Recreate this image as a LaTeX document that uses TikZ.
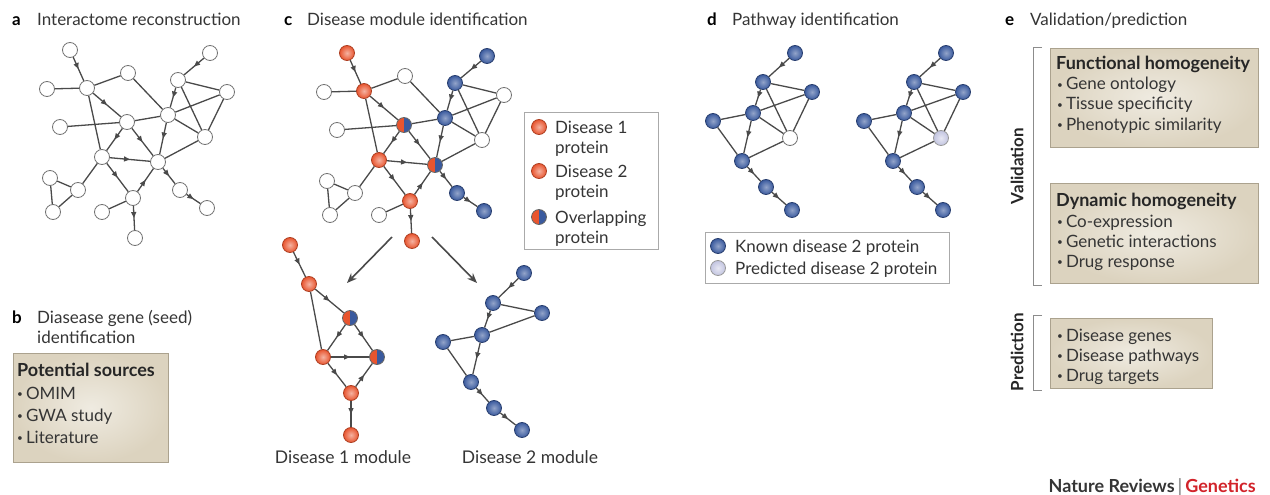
\documentclass[tikz,border=0pt]{standalone}
\usepackage{fontspec}
\setmainfont{Lato}
\usetikzlibrary{arrows.meta,decorations.markings}
\definecolor{edgec}{HTML}{4A4A4A}
\definecolor{redc}{HTML}{E8552F}
\definecolor{bluec}{HTML}{3A5A9E}
\definecolor{predc}{HTML}{C2C4E0}
\definecolor{boxin}{HTML}{EFEBE1}
\definecolor{boxout}{HTML}{DCD3BF}
\definecolor{boxline}{HTML}{ABA28E}
\definecolor{txt}{HTML}{353535}
\definecolor{genred}{HTML}{D2232A}
\definecolor{legline}{HTML}{AAAAAA}
\newcommand\bul{\raisebox{1.4pt}{\fontsize{10}{10}\selectfont\textbullet}\hspace{3pt}}
\tikzset{
  nd/.style={circle,minimum size=15pt,inner sep=0pt,line width=0.8pt},
  wnode/.style={nd,draw=black!55,fill=white},
  rnode/.style={nd,draw=redc!75!black,inner color=redc!45!white,outer color=redc},
  bnode/.style={nd,draw=bluec!70!black,inner color=bluec!55!white,outer color=bluec},
  pnode/.style={nd,draw=black!40,inner color=predc!40!white,outer color=predc},
  onode/.style={nd,draw=black!60,path picture={
      \fill[redc] (path picture bounding box.south west) rectangle (path picture bounding box.north);
      \fill[bluec] (path picture bounding box.south) rectangle (path picture bounding box.north east);}},
  ed/.style={draw=edgec,line width=1.3pt},
  midarrow/.style={postaction={decorate},decoration={markings,mark=at position 0.5 with {\arrow[edgec]{Triangle[length=6pt,width=5pt]}}}},
  bigarr/.style={draw=edgec,line width=1.6pt,-{Stealth[length=10pt,width=8pt]}},
  hdr/.style={anchor=base west,inner sep=0pt,font=\fontsize{17}{20}\selectfont,text=txt},
  lett/.style={anchor=base west,inner sep=0pt,font=\bfseries\fontsize{17}{20}\selectfont,text=black},
  btxt/.style={anchor=base west,inner sep=0pt,font=\fontsize{17}{20}\selectfont,text=txt},
  btitle/.style={anchor=base west,inner sep=0pt,font=\bfseries\fontsize{18}{20}\selectfont,text=black!85},
  ltxt/.style={anchor=base west,inner sep=0pt,font=\fontsize{17}{20}\selectfont,text=txt},
  modtxt/.style={anchor=base,inner sep=0pt,font=\fontsize{17.5}{20}\selectfont,text=txt},
  rottxt/.style={rotate=90,inner sep=0pt,font=\bfseries\fontsize{17}{20}\selectfont,text=black!85},
  ebox/.style={draw=boxline,line width=0.8pt,inner color=boxin,outer color=boxout,anchor=north west,inner sep=0pt},
  legbox/.style={draw=legline,line width=0.8pt,fill=white,anchor=north west,inner sep=0pt},
  brk/.style={draw=black!45,line width=0.9pt},
  c1/.style={wnode},c2/.style={wnode},c3/.style={wnode},c4/.style={wnode},c5/.style={wnode},
  c6/.style={wnode},c7/.style={wnode},c8/.style={wnode},c9/.style={wnode},c10/.style={wnode},
  c11/.style={wnode},c12/.style={wnode},c13/.style={wnode},c14/.style={wnode},c15/.style={wnode},
  c16/.style={wnode},c17/.style={wnode},c18/.style={wnode},c19/.style={wnode},c20/.style={wnode},
  c21/.style={wnode},q6/.style={wnode}
}
\newcommand\netgraph{%
  \node[c1]  (n1)  at (70,50)   {};
  \node[c2]  (n2)  at (210,53)  {};
  \node[c3]  (n3)  at (128,73)  {};
  \node[c4]  (n4)  at (87,88)   {};
  \node[c5]  (n5)  at (178,80)  {};
  \node[c6]  (n6)  at (47,89)   {};
  \node[c7]  (n7)  at (227,92)  {};
  \node[c8]  (n8)  at (127,122) {};
  \node[c9]  (n9)  at (168,115) {};
  \node[c10] (n10) at (60,127)  {};
  \node[c11] (n11) at (205,137) {};
  \node[c12] (n12) at (102,157) {};
  \node[c13] (n13) at (158,162) {};
  \node[c14] (n14) at (50,178)  {};
  \node[c15] (n15) at (78,190)  {};
  \node[c16] (n16) at (180,190) {};
  \node[c17] (n17) at (133,198) {};
  \node[c18] (n18) at (53,212)  {};
  \node[c19] (n19) at (102,212) {};
  \node[c20] (n20) at (207,208) {};
  \node[c21] (n21) at (135,238) {};
  \foreach \u/\v in {n6/n4,n4/n3,n3/n9,n4/n12,n5/n7,n5/n11,n9/n7,n9/n11,n7/n11,n10/n8,n8/n9,n13/n11,n12/n15,n14/n15,n14/n18,n15/n18,n19/n17}
    \draw[ed] (\u) -- (\v);
  \foreach \u/\v in {n1/n4,n4/n8,n2/n5,n5/n9,n9/n13,n8/n12,n8/n13,n12/n13,n12/n17,n17/n13,n17/n21,n13/n16,n16/n20}
    \draw[ed,midarrow] (\u) -- (\v);
}
\newcommand\pathgraph{%
  \node[bnode] (p1) at (795,53)  {};
  \node[bnode] (p2) at (763,82)  {};
  \node[bnode] (p3) at (812,92)  {};
  \node[bnode] (p4) at (753,113) {};
  \node[bnode] (p5) at (713,121) {};
  \node[q6]    (p6) at (790,138) {};
  \node[bnode] (p7) at (742,161) {};
  \node[bnode] (p8) at (766,187) {};
  \node[bnode] (p9) at (792,210) {};
  \foreach \u/\v in {p2/p3,p2/p6,p4/p3,p5/p4,p4/p6,p3/p6,p5/p7,p7/p6}
    \draw[ed] (\u) -- (\v);
  \foreach \u/\v in {p1/p2,p2/p4,p4/p7,p7/p8,p8/p9}
    \draw[ed,midarrow] (\u) -- (\v);
}
\begin{document}
\begin{tikzpicture}[x=1pt,y=-1pt]
\useasboundingbox[fill=white] (0,0) rectangle (1270,495);

% ---------- panel a
\node[lett] (la) at (12,26) {a};
\node[hdr] (ta) at (37,26) {Interactome reconstruction};
\begin{scope}[name prefix=a-]
  \netgraph
\end{scope}

% ---------- panel b
\node[lett] (lb) at (12,323) {b};
\node[hdr] (tb1) at (37,323) {Diasease gene (seed)};
\node[hdr] (tb2) at (37,343) {identification};
\node[ebox,minimum width=155pt,minimum height=109pt] (boxb) at (13,353) {};
\node[btitle] (bt) at (17,376) {Potential sources};
\node[btxt] (b1) at (17,399) {\bul OMIM};
\node[btxt] (b2) at (17,421) {\bul GWA study};
\node[btxt] (b3) at (17,443) {\bul Literature};

% ---------- panel c
\node[lett] (lc) at (284,26) {c};
\node[hdr] (tc) at (307,26) {Disease module identification};
\begin{scope}[name prefix=c-,shift={(277,3)},
   c1/.style={rnode},c4/.style={rnode},c12/.style={rnode},c17/.style={rnode},c21/.style={rnode},
   c2/.style={bnode},c5/.style={bnode},c9/.style={bnode},c16/.style={bnode},c20/.style={bnode},
   c8/.style={onode},c13/.style={onode}]
  \netgraph
\end{scope}
% legend c
\node[legbox,minimum width=134pt,minimum height=137pt] (legc) at (524,112) {};
\node[rnode] (lc1) at (539,127) {};
\node[rnode] (lc2) at (539,171) {};
\node[onode] (lc3) at (539,217) {};
\node[ltxt] (lct1) at (555,133) {Disease 1};
\node[ltxt] (lct2) at (555,153) {protein};
\node[ltxt] (lct3) at (555,177) {Disease 2};
\node[ltxt] (lct4) at (555,197) {protein};
\node[ltxt] (lct5) at (555,223) {Overlapping};
\node[ltxt] (lct6) at (555,243) {protein};
% split arrows
\coordinate (a1s) at (392,237);
\coordinate (a1e) at (347,283);
\coordinate (a2s) at (432,237);
\coordinate (a2e) at (477,283);
\draw[bigarr] (a1s) -- (a1e);
\draw[bigarr] (a2s) -- (a2e);
% disease 1 module
\node[rnode] (m1) at (290,245) {};
\node[rnode] (m2) at (309,284) {};
\node[onode] (m3) at (350,318) {};
\node[rnode] (m4) at (323,357) {};
\node[onode] (m5) at (377,357) {};
\node[rnode] (m6) at (351,393) {};
\node[rnode] (m7) at (351,435) {};
\draw[ed] (m2) -- (m4);
\foreach \u/\v in {m1/m2,m2/m3,m3/m4,m3/m5,m4/m5,m4/m6,m6/m5,m6/m7}
  \draw[ed,midarrow] (\u) -- (\v);
\node[modtxt] (mod1) at (343,463) {Disease 1 module};
% disease 2 module
\node[bnode] (d1) at (524,273) {};
\node[bnode] (d2) at (493,303) {};
\node[bnode] (d3) at (542,313) {};
\node[bnode] (d4) at (482,335) {};
\node[bnode] (d5) at (443,342) {};
\node[bnode] (d6) at (471,382) {};
\node[bnode] (d7) at (494,408) {};
\node[bnode] (d8) at (522,430) {};
\foreach \u/\v in {d2/d3,d4/d3,d5/d4,d5/d6}
  \draw[ed] (\u) -- (\v);
\foreach \u/\v in {d1/d2,d2/d4,d4/d6,d6/d7,d7/d8}
  \draw[ed,midarrow] (\u) -- (\v);
\node[modtxt] (mod2) at (530,463) {Disease 2 module};

% ---------- panel d
\node[lett] (ld) at (707,26) {d};
\node[hdr] (td) at (732,26) {Pathway identification};
\begin{scope}[name prefix=dl-]
  \pathgraph
\end{scope}
\begin{scope}[name prefix=dr-,shift={(151,0)},q6/.style={pnode}]
  \pathgraph
\end{scope}
\node[legbox,minimum width=244pt,minimum height=51pt] (legd) at (705,232) {};
\node[bnode] (ld1) at (718,246) {};
\node[pnode] (ld2) at (718,268) {};
\node[ltxt] (ldt1) at (735,252) {Known disease 2 protein};
\node[ltxt] (ldt2) at (735,274) {Predicted disease 2 protein};

% ---------- panel e
\node[lett] (le) at (1005,26) {e};
\node[hdr] (te) at (1030,26) {Validation/prediction};
\coordinate (v1) at (1042,47);
\coordinate (v2) at (1033,47);
\coordinate (v3) at (1033,285);
\coordinate (v4) at (1042,285);
\draw[brk] (v1) -- (v2) -- (v3) -- (v4);
\coordinate (w1) at (1042,315);
\coordinate (w2) at (1033,315);
\coordinate (w3) at (1033,390);
\coordinate (w4) at (1042,390);
\draw[brk] (w1) -- (w2) -- (w3) -- (w4);
\node[rottxt] (val) at (1017,166) {Validation};
\node[rottxt] (pred) at (1017,352) {Prediction};
\node[ebox,minimum width=208pt,minimum height=99pt] (e1) at (1050,48) {};
\node[btitle] (e1t) at (1056,70) {Functional homogeneity};
\node[btxt] (e11) at (1057,90) {\bul Gene ontology};
\node[btxt] (e12) at (1057,110) {\bul Tissue specificity};
\node[btxt] (e13) at (1057,130) {\bul Phenotypic similarity};
\node[ebox,minimum width=208pt,minimum height=100pt] (e2) at (1050,183) {};
\node[btitle] (e2t) at (1056,206) {Dynamic homogeneity};
\node[btxt] (e21) at (1057,227) {\bul Co-expression};
\node[btxt] (e22) at (1057,247) {\bul Genetic interactions};
\node[btxt] (e23) at (1057,267) {\bul Drug response};
\node[ebox,minimum width=162pt,minimum height=70pt] (e3) at (1050,318) {};
\node[btxt] (e31) at (1057,341) {\bul Disease genes};
\node[btxt] (e32) at (1057,361) {\bul Disease pathways};
\node[btxt] (e33) at (1057,381) {\bul Drug targets};

% ---------- footer
\node[anchor=base east,inner sep=0pt,font=\bfseries\fontsize{18}{20}\selectfont] (foot) at (1256,492)
  {\textcolor{txt}{Nature Reviews}\,\textcolor{black!40}{|}\,\textcolor{genred}{Genetics}};
\end{tikzpicture}
\end{document}
